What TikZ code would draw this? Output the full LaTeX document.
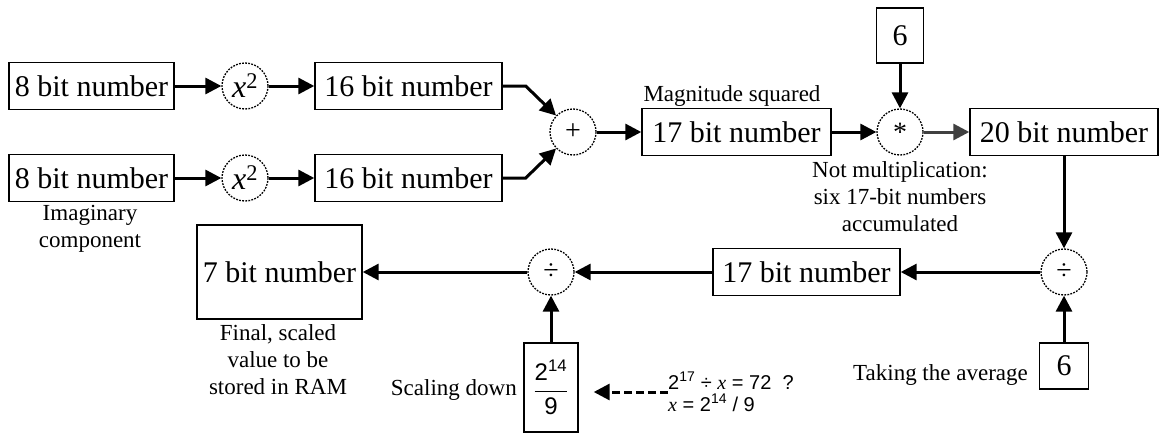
\documentclass[tikz,border=0pt]{standalone}
\usepackage{fontspec}
\setmainfont{Liberation Serif}
\newfontfamily\eqfont{Liberation Sans}
\usetikzlibrary{arrows.meta}

\begin{document}
\begin{tikzpicture}[x=1pt,y=-1pt,
  numbox/.style={draw,line width=1.4pt,minimum width=#1,minimum height=47pt,
    inner sep=0pt,font=\fontsize{30}{34}\selectfont},
  op/.style={circle,draw,line width=1.3pt,dash pattern=on 1.8pt off 1.3pt,
    minimum size=46pt,inner sep=0pt,font=\fontsize{28}{30}\selectfont},
  note/.style={align=center,inner sep=0pt,font=\fontsize{23}{27}\selectfont},
  flow/.style={line width=3pt,-{Triangle[length=16pt,width=16pt]}}]
  \useasboundingbox (0,0) rectangle (1161,434);

  % real and imaginary inputs, each squared
  \foreach \r/\y in {re/86, im/178} {
    \node[numbox=165pt] (in\r) at (91.5,\y) {8 bit number};
    \node[op,font=\fontsize{32}{34}\selectfont] (sq\r) at (245,\y) {\textit{x}\textsuperscript{2}};
    \node[numbox=187pt] (sixteen\r) at (408.5,\y) {16 bit number};
    \draw[flow] (in\r) -- (sq\r);
    \draw[flow] (sq\r) -- (sixteen\r);
  }
  \node[note] (imnote) at (90,229) {Imaginary\\component};

  % sum of squares
  \node[op] (plus) at (573,132) {+};
  \draw[flow] (sixteenre.east) -- ++(23,0) -- (plus);
  \draw[flow] (sixteenim.east) -- ++(23,0) -- (plus);
  \node[numbox=189pt] (mag) at (736.5,132) {17 bit number};
  \node[note,anchor=south] (magnote) at (732,107) {Magnitude squared};
  \draw[flow] (plus) -- (mag);

  % accumulate six values
  \node[op] (acc) at (900,132) {*};
  \node[numbox=47pt,minimum height=55pt] (sixa) at (900,35.5) {6};
  \node[numbox=188pt] (twenty) at (1064,132) {20 bit number};
  \node[note] (accnote) at (900,197) {Not multiplication:\\six 17-bit numbers\\accumulated};
  \draw[flow] (mag) -- (acc);
  \draw[flow] (sixa) -- (acc);
  \draw[flow,color=black!75] (acc) -- (twenty);

  % average
  \node[op] (avg) at (1064,272) {÷};
  \node[numbox=49pt,minimum height=46pt] (sixb) at (1064,366) {6};
  \node[note,anchor=east] (avgnote) at (1028,375) {Taking the average};
  \node[numbox=187pt] (avgout) at (806.5,272) {17 bit number};
  \draw[flow] (twenty) -- (avg);
  \draw[flow] (sixb) -- (avg);
  \draw[flow] (avg) -- (avgout);

  % scaling down to 7 bits
  \node[op] (scale) at (551,272) {÷};
  \node[numbox=54pt,minimum height=89pt] (factor) at (551,387.5)
    {\eqfont\fontsize{24}{28}\selectfont$\displaystyle\frac{\mbox{2\textsuperscript{14}}}{\mbox{9}}$};
  \node[note,anchor=east] (scalenote) at (517,390) {Scaling down};
  \node[numbox=165pt,minimum height=94pt] (out) at (279.5,272) {7 bit number};
  \node[note] (outnote) at (278,360) {Final, scaled\\value to be\\stored in RAM};
  \node[align=left,anchor=west,inner sep=0pt,font=\eqfont\fontsize{20}{22}\selectfont] (calc) at (668,392)
    {2\textsuperscript{17} ÷ {\rmfamily\itshape x} = 72\ \ ?\\{\rmfamily\itshape x} = 2\textsuperscript{14} / 9};
  \draw[flow] (avgout) -- (scale);
  \draw[flow] (factor) -- (scale);
  \draw[flow] (scale) -- (out);
  \draw[flow,dash pattern=on 8pt off 4pt,shorten >=15pt] (calc.west) -- (calc.west -| factor.east);
\end{tikzpicture}
\end{document}
